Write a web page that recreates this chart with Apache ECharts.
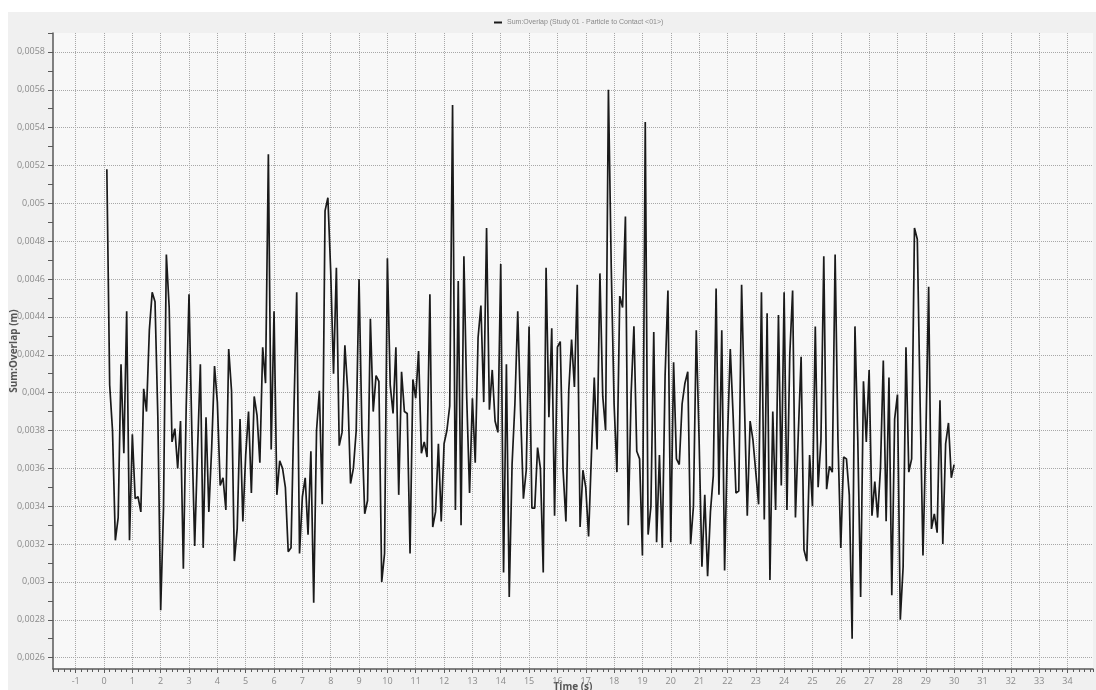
<!DOCTYPE html>
<html>
<head>
<meta charset="utf-8">
<script src="https://cdn.jsdelivr.net/npm/echarts@6/dist/echarts.min.js"></script>
<style>
    html, body { margin: 0; padding: 0; background: #fff; }
    #chart { width: 1096px; height: 690px; }
</style>
</head>
<body>
<div id="chart"></div>
<script>
// sampled every 0.1 s, first sample at t = 0.1 s
const sampleStart = 0.1;
const sampleStep = 0.1;

const overlap00to05 = [
    0.00518, 0.00404, 0.00380, 0.00322, 0.00334, 0.00415, 0.00368, 0.00443, 0.00322, 0.00378,
    0.00344, 0.00345, 0.00337, 0.00402, 0.00390, 0.00433, 0.00453, 0.00448, 0.00387, 0.00285,
    0.00339, 0.00473, 0.00445, 0.00374, 0.00381, 0.00360, 0.00385, 0.00307, 0.00392, 0.00452,
    0.00379, 0.00319, 0.00369, 0.00415, 0.00318, 0.00387, 0.00337, 0.00371, 0.00414, 0.00395,
    0.00351, 0.00355, 0.00338, 0.00423, 0.00401, 0.00311, 0.00328, 0.00386, 0.00332, 0.00367
];
const overlap05to10 = [
    0.00390, 0.00347, 0.00398, 0.00388, 0.00363, 0.00424, 0.00405, 0.00526, 0.00370, 0.00443,
    0.00346, 0.00364, 0.00360, 0.00350, 0.00316, 0.00318, 0.00389, 0.00453, 0.00315, 0.00345,
    0.00355, 0.00325, 0.00369, 0.00289, 0.00380, 0.00401, 0.00341, 0.00496, 0.00503, 0.00464,
    0.00410, 0.00466, 0.00372, 0.00379, 0.00425, 0.00401, 0.00352, 0.00360, 0.00380, 0.00460,
    0.00381, 0.00336, 0.00343, 0.00439, 0.00390, 0.00409, 0.00406, 0.00300, 0.00315, 0.00471
];
const overlap10to15 = [
    0.00404, 0.00389, 0.00424, 0.00346, 0.00411, 0.00390, 0.00389, 0.00315, 0.00407, 0.00397,
    0.00422, 0.00368, 0.00374, 0.00366, 0.00452, 0.00329, 0.00337, 0.00373, 0.00332, 0.00373,
    0.00380, 0.00393, 0.00552, 0.00338, 0.00459, 0.00330, 0.00472, 0.00397, 0.00347, 0.00397,
    0.00363, 0.00429, 0.00446, 0.00395, 0.00487, 0.00391, 0.00412, 0.00385, 0.00379, 0.00468,
    0.00305, 0.00415, 0.00292, 0.00362, 0.00394, 0.00443, 0.00390, 0.00344, 0.00359, 0.00435
];
const overlap15to20 = [
    0.00339, 0.00339, 0.00371, 0.00360, 0.00305, 0.00466, 0.00387, 0.00434, 0.00335, 0.00424,
    0.00427, 0.00359, 0.00332, 0.00401, 0.00428, 0.00403, 0.00457, 0.00329, 0.00359, 0.00350,
    0.00324, 0.00367, 0.00408, 0.00370, 0.00463, 0.00398, 0.00380, 0.00560, 0.00466, 0.00394,
    0.00358, 0.00451, 0.00445, 0.00493, 0.00330, 0.00399, 0.00435, 0.00369, 0.00365, 0.00314,
    0.00543, 0.00325, 0.00340, 0.00432, 0.00321, 0.00367, 0.00318, 0.00409, 0.00454, 0.00321
];
const overlap20to25 = [
    0.00416, 0.00365, 0.00362, 0.00394, 0.00405, 0.00411, 0.00320, 0.00340, 0.00433, 0.00375,
    0.00308, 0.00346, 0.00303, 0.00337, 0.00356, 0.00455, 0.00346, 0.00433, 0.00306, 0.00375,
    0.00423, 0.00388, 0.00347, 0.00348, 0.00457, 0.00394, 0.00335, 0.00385, 0.00375, 0.00358,
    0.00341, 0.00453, 0.00333, 0.00442, 0.00301, 0.00390, 0.00338, 0.00441, 0.00351, 0.00453,
    0.00338, 0.00420, 0.00454, 0.00334, 0.00378, 0.00419, 0.00317, 0.00311, 0.00367, 0.00340
];
const overlap25to30 = [
    0.00435, 0.00350, 0.00375, 0.00472, 0.00349, 0.00361, 0.00358, 0.00473, 0.00375, 0.00318,
    0.00366, 0.00365, 0.00346, 0.00270, 0.00435, 0.00375, 0.00292, 0.00406, 0.00374, 0.00412,
    0.00335, 0.00353, 0.00334, 0.00360, 0.00417, 0.00332, 0.00408, 0.00293, 0.00386, 0.00399,
    0.00280, 0.00308, 0.00424, 0.00358, 0.00365, 0.00487, 0.00481, 0.00394, 0.00314, 0.00375,
    0.00456, 0.00328, 0.00336, 0.00326, 0.00396, 0.00320, 0.00373, 0.00384, 0.00355, 0.00362
];

const timeTicks = [-1, 0, 1, 2, 3, 4, 5, 6, 7, 8, 9, 10, 11, 12, 13, 14, 15, 16, 17,
    18, 19, 20, 21, 22, 23, 24, 25, 26, 27, 28, 29, 30, 31, 32, 33, 34];
const overlapTicks = [0.0026, 0.0028, 0.003, 0.0032, 0.0034, 0.0036, 0.0038, 0.004,
    0.0042, 0.0044, 0.0046, 0.0048, 0.005, 0.0052, 0.0054, 0.0056, 0.0058];
const overlapMinorTicks = [0.0026, 0.0027, 0.0028, 0.0029, 0.003, 0.0031, 0.0032, 0.0033,
    0.0034, 0.0035, 0.0036, 0.0037, 0.0038, 0.0039, 0.004, 0.0041, 0.0042, 0.0043, 0.0044,
    0.0045, 0.0046, 0.0047, 0.0048, 0.0049, 0.005, 0.0051, 0.0052, 0.0053, 0.0054, 0.0055,
    0.0056, 0.0057, 0.0058, 0.0059];

const seriesName = 'Sum:Overlap (Study 01 - Particle to Contact <01>)';

const overlap = [].concat(overlap00to05, overlap05to10, overlap10to15,
    overlap15to20, overlap20to25, overlap25to30);
const lineData = overlap.map(function (v, i) {
    return [Math.round((sampleStart + i * sampleStep) * 10) / 10, v];
});

const xMin = -1.8, xMax = 34.9;
const yMin = 0.00254, yMax = 0.0059;
const labelColor = '#8a8a8a';
const axisColor = '#5a5a5a';
const gridColor = '#a8a8a8';

function fmtComma (v) {
    return String(+v.toFixed(5)).replace('.', ',');
}

const chart = echarts.init(document.getElementById('chart'));
chart.setOption({
    animation: false,
    backgroundColor: '#ffffff',
    graphic: [{
        type: 'rect',
        z: -10,
        shape: { x: 8, y: 12, width: 1088, height: 678 },
        style: { fill: '#f0f0f0' }
    }],
    legend: {
        top: 14,
        left: 489,
        icon: 'rect',
        itemWidth: 8,
        itemHeight: 2,
        itemGap: 4,
        textStyle: { color: '#8a8a8a', fontSize: 7, fontFamily: 'Liberation Sans' },
        data: [seriesName]
    },
    grid: {
        left: 53,
        right: 3,
        top: 33,
        bottom: 21,
        outerBoundsMode: 'none',
        containLabel: false,
        show: true,
        backgroundColor: '#f8f8f8',
        borderWidth: 0
    },
    xAxis: [{
        type: 'value',
        min: xMin,
        max: xMax,
        name: 'Time (s)',
        nameLocation: 'middle',
        nameGap: 18,
        nameMoveOverlap: false,
        nameTextStyle: {
            color: '#555', fontSize: 10, fontWeight: 'bold', fontFamily: 'Open Sans',
            verticalAlign: 'middle'
        },
        axisLine: { show: true, onZero: false, lineStyle: { color: axisColor, width: 1.5 } },
        axisTick: { show: true, length: 4, customValues: timeTicks, lineStyle: { color: axisColor } },
        axisLabel: {
            customValues: timeTicks,
            color: labelColor,
            fontSize: 9,
            margin: 8,
            fontFamily: 'Open Sans'
        },
        splitLine: { show: true, lineStyle: { color: gridColor, type: [1, 1], width: 1 } }
    }, {
        type: 'value',
        min: xMin,
        max: xMax,
        interval: 0.2,
        position: 'bottom',
        axisLine: { show: false, onZero: false },
        axisTick: { show: true, length: 3, lineStyle: { color: axisColor } },
        axisLabel: { show: false },
        splitLine: { show: false }
    }],
    yAxis: [{
        type: 'value',
        min: yMin,
        max: yMax,
        position: 'left',
        name: 'Sum:Overlap (m)',
        nameLocation: 'middle',
        nameGap: 39,
        nameMoveOverlap: false,
        nameTextStyle: {
            color: '#555', fontSize: 10, fontWeight: 'bold', fontFamily: 'Open Sans',
            verticalAlign: 'middle'
        },
        axisLine: { show: true, onZero: false, lineStyle: { color: axisColor, width: 1.5 } },
        axisTick: { show: true, length: 5, customValues: overlapTicks, lineStyle: { color: axisColor } },
        axisLabel: {
            customValues: overlapTicks,
            color: labelColor,
            fontSize: 9,
            margin: 8,
            fontFamily: 'Open Sans',
            formatter: fmtComma
        },
        splitLine: { show: true, lineStyle: { color: gridColor, type: [1, 1], width: 1 } }
    }, {
        type: 'value',
        min: yMin,
        max: yMax,
        position: 'left',
        axisLine: { show: false, onZero: false },
        axisTick: { show: true, length: 5, customValues: overlapMinorTicks, lineStyle: { color: axisColor } },
        axisLabel: { show: false },
        splitLine: { show: false }
    }],
    series: [{
        name: seriesName,
        type: 'line',
        xAxisIndex: 0,
        yAxisIndex: 0,
        showSymbol: false,
        symbol: 'none',
        color: '#1a1a1a',
        lineStyle: { color: '#1a1a1a', width: 1.7 },
        data: lineData
    }]
});
</script>
</body>
</html>
